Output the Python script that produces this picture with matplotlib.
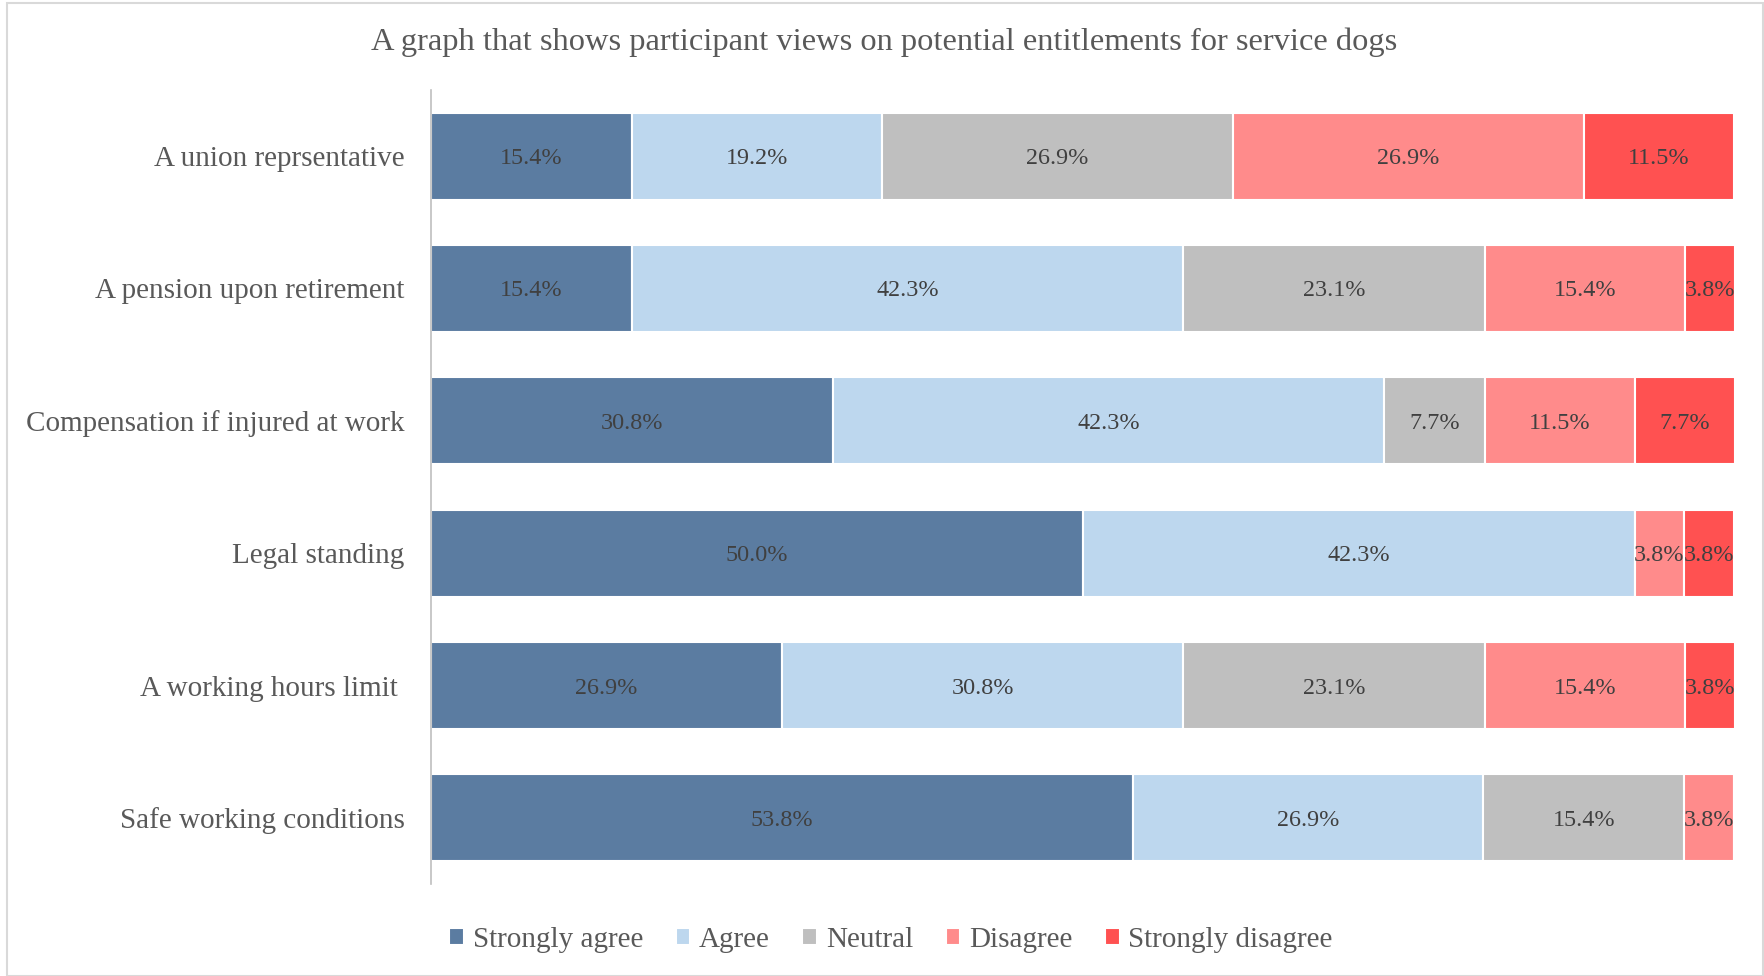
#!/usr/bin/env python3
import matplotlib
matplotlib.use("Agg")
import matplotlib.pyplot as plt
from matplotlib.patches import Rectangle

categories = [ "A union reprsentative", "A pension upon retirement",
               "Compensation if injured at work", "Legal standing",
               "A working hours limit ", "Safe working conditions" ]
series_names = [ "Strongly agree", "Agree", "Neutral", "Disagree", "Strongly disagree" ]
strongly_agree    = [ 15.4, 15.4, 30.8, 50.0, 26.9, 53.8 ]
agree             = [ 19.2, 42.3, 42.3, 42.3, 30.8, 26.9 ]
neutral           = [ 26.9, 23.1, 7.7, 0.0, 23.1, 15.4 ]
disagree          = [ 26.9, 15.4, 11.5, 3.8, 15.4, 3.8 ]
strongly_disagree = [ 11.5, 3.8, 7.7, 3.8, 3.8, 0.0 ]
title = "A graph that shows participant views on potential entitlements for service dogs"

colors = [ "#5B7CA1", "#BDD7EE", "#BFBFBF", "#FF8B8B", "#FF5151" ]

plt.rcParams['font.family'] = [ 'Liberation Serif', 'DejaVu Serif' ]

fig = plt.figure( figsize=(17.65, 9.76), dpi=100 )
ax = fig.add_axes( [ 431/1765, 1 - 884/976, (1735-431)/1765, (884-90)/976 ] )

# light border around chart area
fig.patches.append( Rectangle( (7/1765, 0.0), 1 - 9/1765, 1 - 3/976, transform=fig.transFigure,
                               fill=False, edgecolor="#D9D9D9", linewidth=1.5 ) )

all_series = [ strongly_agree, agree, neutral, disagree, strongly_disagree ]
y = list( range( len(categories) ) )
left = [ 0.0 ] * len(categories)
for name, vals, col in zip( series_names, all_series, colors ):
    bars = ax.barh( y, vals, left=left, height=0.655, color=col, edgecolor="white",
                    linewidth=1.5, label=name )
    for b, v in zip( bars, vals ):
        if v > 0:
            ax.text( b.get_x() + b.get_width()/2, b.get_y() + b.get_height()/2,
                     "%.1f%%" % v, ha="center", va="center_baseline", fontsize=17.4, color="#404040" )
    left = [ l + v for l, v in zip( left, vals ) ]

ax.set_xlim( 0, 100 )
ax.set_ylim( -0.5, len(categories) - 0.5 )
ax.invert_yaxis()
ax.set_yticks( y )
ax.set_yticklabels( categories, fontsize=21, color="#595959" )
ax.tick_params( axis="y", length=0, pad=19 )
ax.set_xticks( [] )
for s in [ "top", "right", "bottom" ]:
    ax.spines[s].set_visible( False )
ax.spines["left"].set_color( "#BFBFBF" )
ax.spines["left"].set_linewidth( 1.2 )

fig.text( 884/1765, 1 - 42/976, title, ha="center", va="center", fontsize=23.4, color="#595959" )

fig.legend( loc="center", bbox_to_anchor=( 891/1765, 1 - 940/976 ), ncol=5, frameon=False,
            fontsize=21, handlelength=0.5, handleheight=0.5, handletextpad=0.3,
            columnspacing=1.12, labelcolor="#595959" )

fig.savefig( "out.png", dpi=100 )
